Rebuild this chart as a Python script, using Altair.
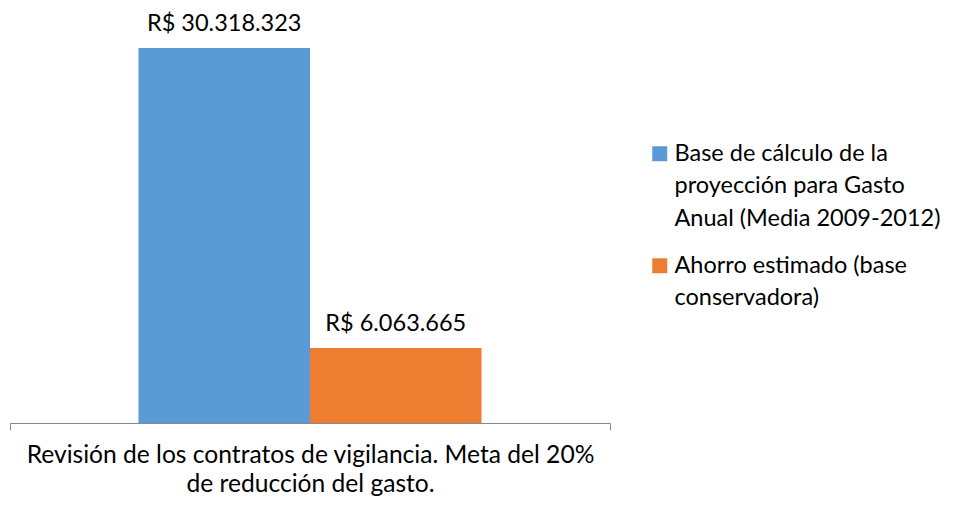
import altair as alt
import pandas as pd

categoria = ["Revisión de los contratos de vigilancia. Meta del 20%|de reducción del gasto."]
series = [
    "Base de cálculo de la|proyección para Gasto|Anual (Media 2009-2012)",
    "Ahorro estimado (base|conservadora)",
]
valores = [30318323, 6063665]
etiquetas = ["R$ 30.318.323", "R$ 6.063.665"]
colores = ["#5B9BD5", "#ED7D31"]

df = pd.DataFrame({
    "cat": categoria * len(series),
    "serie": series,
    "valor": valores,
    "etiqueta": etiquetas,
})

FONT = "Lato"
GRAY = "#898989"

x = alt.X(
    "cat:N",
    scale=alt.Scale(paddingInner=0, paddingOuter=0),
    axis=alt.Axis(
        title=None, labelAngle=0, labelExpr="split(datum.label, '|')",
        tickBand="extent", tickSize=7, tickColor=GRAY, domainColor=GRAY,
        labelFont=FONT, labelFontSize=24.6, labelColor="#000000",
        labelLineHeight=29, labelPadding=13, labelLimit=0,
    ),
)
xo = alt.XOffset("serie:N", sort=series,
                 scale=alt.Scale(paddingInner=0, paddingOuter=0.749))
y = alt.Y("valor:Q", scale=alt.Scale(domain=[0, 33067000], nice=False), axis=None)

bars = alt.Chart(df).mark_bar().encode(
    x=x, xOffset=xo, y=y,
    color=alt.Color(
        "serie:N", sort=series,
        scale=alt.Scale(domain=series, range=colores),
        legend=alt.Legend(
            title=None, orient="none", legendX=638, legendY=128,
            symbolType="square", symbolSize=225, symbolStrokeWidth=0,
            labelExpr="split(datum.label, '|')",
            labelFont=FONT, labelFontSize=23.5, labelColor="#000000",
            labelOffset=3, labelLimit=0, rowPadding=22,
        ),
    ),
)

text = alt.Chart(df).mark_text(
    font=FONT, fontSize=23.5, color="#000000", baseline="alphabetic", dy=-17
).encode(x=x, xOffset=xo, y=y, text="etiqueta:N")

chart = (bars + text).properties(
    width=600, height=409,
    autosize="none",
    padding={"left": 2, "top": 6, "right": 336, "bottom": 80},
).configure(
    background="white",
    style={"guide-label": {"lineHeight": 32.5}},
    view=alt.ViewConfig(strokeWidth=0),
)

chart.save("out.html", embed_options={"renderer": "svg", "actions": False})
